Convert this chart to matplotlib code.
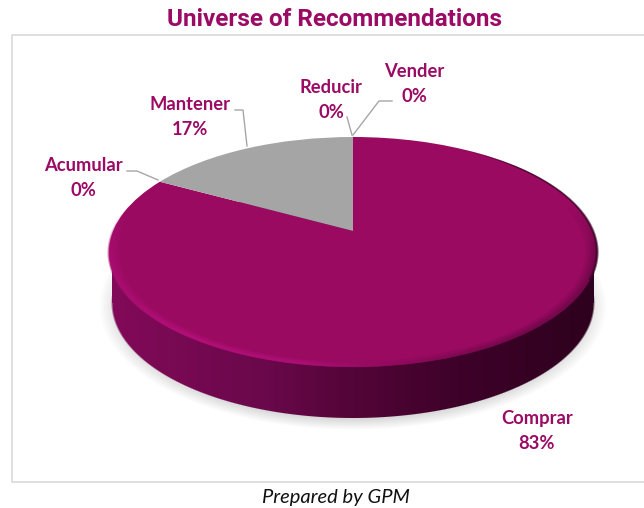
import matplotlib
matplotlib.use('Agg')
import matplotlib.pyplot as plt
from matplotlib.patches import PathPatch
from matplotlib.path import Path
from matplotlib.colors import to_rgb
import numpy as np

categories = ['Comprar', 'Acumular', 'Mantener', 'Reducir', 'Vender']
values = [83, 0, 17, 0, 0]
colors = ['#990a60', '#990a60', '#a5a5a5', '#a5a5a5', '#a5a5a5']

WINE = '#9b0a64'
LABEL_FONT = ['Lato', 'DejaVu Sans']
TITLE_FONT = ['Roboto', 'DejaVu Sans']

W, H = 644, 508
fig = plt.figure(figsize=(W / 100, H / 100), dpi=100)
ax = fig.add_axes([0, 0, 1, 1])


def project(xy, b=0.183, cx=353, cy=252, rx=244, ry=115):
    # disc -> tilted disc, the apex sits above the middle of the ellipse like in a 3D pie
    u, v = xy[:, 0], xy[:, 1]
    d = 1 + b * v
    return np.column_stack([cx + rx * np.sqrt(1 - b * b) * u / d, cy - ry * (v + b) / d])


def ramp(x, stops):
    pos = [s[0] for s in stops]
    rgb = np.array([to_rgb(s[1]) for s in stops])
    return np.dstack([np.interp(x, pos, rgb[:, i]) for i in range(3)])


def soft(dist):
    return np.clip(dist + 0.5, 0, 1)


wedges, _ = ax.pie(values, colors=colors, startangle=90, counterclock=False, radius=1)

xx, yy = np.meshgrid(np.arange(W) + 0.5, np.arange(H) + 0.5)

wall_stops = [(112, '#820a59'), (270, '#69084a'), (340, '#56053a'), (450, '#3f022a'), (594, '#2e011e')]
rim_stops = [(108, '#a80e70'), (180, '#b8107c'), (300, '#b0107a'), (400, '#8c0a5c'), (500, '#6a0747'), (598, '#520538')]

# ground shadow
e_shadow = np.hypot((xx - 353) / 254, (yy - 306) / 124)
img = np.ones((H, W, 4))
img[..., :3] = 0.72
img[..., 3] = np.clip((1 - e_shadow) / 0.1, 0, 1) * 0.6
ax.imshow(img, extent=(0, W, H, 0), zorder=1, interpolation='nearest')

# side wall
e_low = np.hypot((xx - 353) / 241, (yy - 303) / 115)
e_top = np.hypot((xx - 353) / 245, (yy - 252) / 115)
inside = (np.abs(xx - 353) < 241) & (yy > 252) & (yy < 303)
mask = np.maximum(soft((1 - e_low) * 115), inside.astype(float))
img = np.dstack([ramp(xx, wall_stops), mask])
ax.imshow(img, extent=(0, W, H, 0), zorder=2, interpolation='nearest')

# top face from the pie wedges
for w, val in zip(wedges, values):
    w.set_visible(False)
    if val == 0:
        continue
    p = w.get_patch_transform().transform_path(w.get_path())
    ax.add_patch(PathPatch(Path(project(p.vertices), p.codes), facecolor=w.get_facecolor(),
                           edgecolor='none', zorder=5 if val == 83 else 7))

# highlight along the lower edge of the face
fade = np.clip((e_top - 0.945) / 0.04, 0, 1) * soft((1 - e_top) * 115) * np.clip((yy - 205) / 50, 0, 1)
fade = fade * np.interp(xx, [108, 400, 598], [0.85, 0.8, 0.5])
img = np.dstack([ramp(xx, rim_stops), fade])
ax.imshow(img, extent=(0, W, H, 0), zorder=6, interpolation='nearest')

# thin dark line on the upper right of the edge
dark = np.clip((e_top - 0.987) / 0.01, 0, 1) * soft((1 - e_top) * 115)
dark = dark * np.clip((xx - 460) / 60, 0, 1) * (yy < 280)
img = np.dstack([ramp(xx, [(0, '#3a0226'), (644, '#3a0226')]), dark])
ax.imshow(img, extent=(0, W, H, 0), zorder=6, interpolation='nearest')

ax.set_xlim(0, W)
ax.set_ylim(H, 0)
ax.set_aspect('auto')
ax.axis('off')

# chart frame
ax.plot([W, 12, 12, W], [35, 35, 482, 482], color='#d9d9d9', lw=1.2, zorder=0, clip_on=False)

# leader lines
leaders = [([127, 137, 158], [171, 171, 180]),
           ([235, 243, 247], [110, 110, 146]),
           ([347, 352], [117, 135]),
           ([392, 379, 353], [101, 101, 135])]
for lx, ly in leaders:
    ax.plot(lx, ly, color='#a6a6a6', lw=1.0, zorder=8)

# labels
label_pos = {'Vender': (414, 84), 'Reducir': (331, 100), 'Mantener': (190, 117),
             'Acumular': (83, 178), 'Comprar': (537, 431)}
for name, val in zip(categories, values):
    x, y = label_pos[name]
    ax.text(x, y, f'{name}\n{val}%', color=WINE, family=LABEL_FONT, fontweight='bold', fontsize=13.2,
            ha='center', va='center', linespacing=1.6, zorder=9)

ax.text(335, 19.5, 'Universe of Recommendations', color=WINE, family=TITLE_FONT, fontweight='bold',
        fontsize=17.5, ha='center', va='center')
ax.text(336, 497, 'Prepared by GPM', color='#111111', family=['Lato', 'DejaVu Sans'], style='italic',
        fontsize=14.5, ha='center', va='center')

fig.savefig('out.png', dpi=100)
